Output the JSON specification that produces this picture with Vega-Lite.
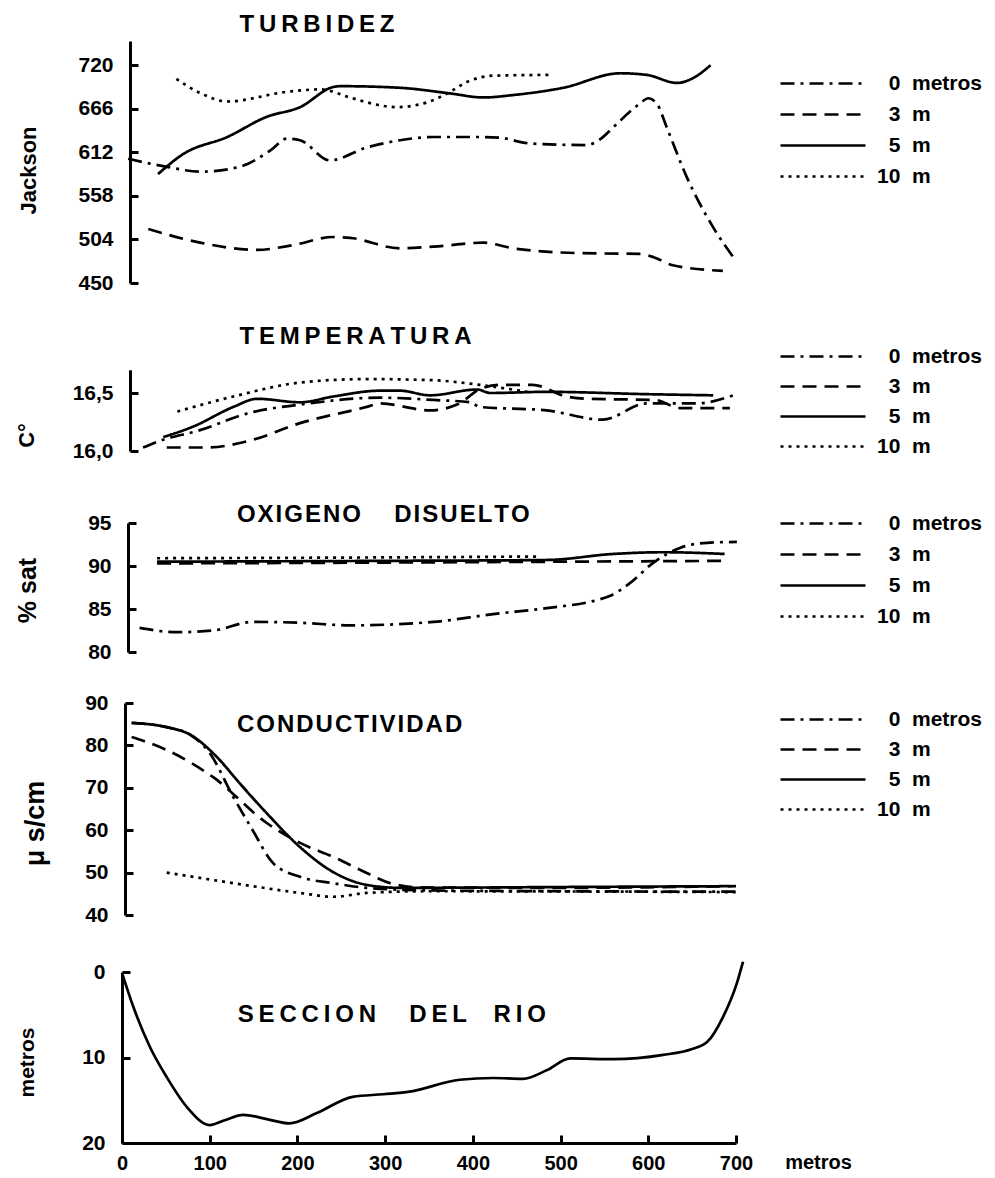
{
  "$schema": "https://vega.github.io/schema/vega-lite/v6.json",
  "autosize": {"type": "none"},
  "width": 614,
  "height": 1102,
  "padding": {"left": 122, "top": 41, "right": 259, "bottom": 35},
  "background": "white",
  "config": {
    "view": {"stroke": null},
    "font": "Liberation Sans",
    "axis": {
      "grid": false,
      "domainColor": "black",
      "domainWidth": 3,
      "tickColor": "black",
      "tickWidth": 3,
      "tickSize": -8,
      "labelPadding": 25,
      "labelFlush": false,
      "labelFont": "Liberation Sans",
      "labelFontSize": 21,
      "labelFontWeight": "bold",
      "labelColor": "black",
      "titleFont": "Liberation Sans",
      "titleFontSize": 22,
      "titleFontWeight": "bold",
      "titleColor": "black"
    },
    "legend": {
      "title": null,
      "symbolType": "M0,0H17",
      "symbolSize": 100,
      "symbolStrokeWidth": 2.6,
      "symbolStrokeColor": "black",
      "symbolFillColor": "transparent",
      "labelOffset": 86,
      "labelFont": "Liberation Sans",
      "labelFontSize": 21,
      "labelFontWeight": "bold",
      "labelColor": "black",
      "labelLimit": 300,
      "rowPadding": 8
    }
  },
  "datasets": {
    "d": [
      {"panel": "T", "depth": "0", "x": 7, "value": 604},
      {"panel": "T", "depth": "0", "x": 51, "value": 594},
      {"panel": "T", "depth": "0", "x": 89, "value": 588},
      {"panel": "T", "depth": "0", "x": 134, "value": 594},
      {"panel": "T", "depth": "0", "x": 170, "value": 615},
      {"panel": "T", "depth": "0", "x": 188, "value": 629},
      {"panel": "T", "depth": "0", "x": 203, "value": 627},
      {"panel": "T", "depth": "0", "x": 237, "value": 602},
      {"panel": "T", "depth": "0", "x": 279, "value": 618},
      {"panel": "T", "depth": "0", "x": 317, "value": 627},
      {"panel": "T", "depth": "0", "x": 355, "value": 631},
      {"panel": "T", "depth": "0", "x": 408, "value": 631},
      {"panel": "T", "depth": "0", "x": 431, "value": 630},
      {"panel": "T", "depth": "0", "x": 465, "value": 623},
      {"panel": "T", "depth": "0", "x": 530, "value": 621},
      {"panel": "T", "depth": "0", "x": 545, "value": 628},
      {"panel": "T", "depth": "0", "x": 560, "value": 643},
      {"panel": "T", "depth": "0", "x": 590, "value": 672},
      {"panel": "T", "depth": "0", "x": 600, "value": 679},
      {"panel": "T", "depth": "0", "x": 610, "value": 672},
      {"panel": "T", "depth": "0", "x": 621, "value": 643},
      {"panel": "T", "depth": "0", "x": 644, "value": 581},
      {"panel": "T", "depth": "0", "x": 674, "value": 519},
      {"panel": "T", "depth": "0", "x": 699, "value": 479},
      {"panel": "T", "depth": "3", "x": 30, "value": 517},
      {"panel": "T", "depth": "3", "x": 89, "value": 500},
      {"panel": "T", "depth": "3", "x": 154, "value": 491},
      {"panel": "T", "depth": "3", "x": 195, "value": 497},
      {"panel": "T", "depth": "3", "x": 241, "value": 507},
      {"panel": "T", "depth": "3", "x": 260, "value": 506},
      {"panel": "T", "depth": "3", "x": 317, "value": 493},
      {"panel": "T", "depth": "3", "x": 355, "value": 495},
      {"panel": "T", "depth": "3", "x": 412, "value": 500},
      {"panel": "T", "depth": "3", "x": 446, "value": 493},
      {"panel": "T", "depth": "3", "x": 522, "value": 487},
      {"panel": "T", "depth": "3", "x": 590, "value": 486},
      {"panel": "T", "depth": "3", "x": 606, "value": 482},
      {"panel": "T", "depth": "3", "x": 628, "value": 472},
      {"panel": "T", "depth": "3", "x": 685, "value": 465},
      {"panel": "T", "depth": "5", "x": 41, "value": 585},
      {"panel": "T", "depth": "5", "x": 70, "value": 610},
      {"panel": "T", "depth": "5", "x": 120, "value": 631},
      {"panel": "T", "depth": "5", "x": 165, "value": 656},
      {"panel": "T", "depth": "5", "x": 203, "value": 668},
      {"panel": "T", "depth": "5", "x": 241, "value": 693},
      {"panel": "T", "depth": "5", "x": 249, "value": 694},
      {"panel": "T", "depth": "5", "x": 317, "value": 692},
      {"panel": "T", "depth": "5", "x": 374, "value": 685},
      {"panel": "T", "depth": "5", "x": 412, "value": 680},
      {"panel": "T", "depth": "5", "x": 446, "value": 683},
      {"panel": "T", "depth": "5", "x": 503, "value": 692},
      {"panel": "T", "depth": "5", "x": 568, "value": 710},
      {"panel": "T", "depth": "5", "x": 598, "value": 708},
      {"panel": "T", "depth": "5", "x": 633, "value": 698},
      {"panel": "T", "depth": "5", "x": 651, "value": 704},
      {"panel": "T", "depth": "5", "x": 671, "value": 720},
      {"panel": "T", "depth": "10", "x": 62, "value": 703},
      {"panel": "T", "depth": "10", "x": 90, "value": 685},
      {"panel": "T", "depth": "10", "x": 120, "value": 675},
      {"panel": "T", "depth": "10", "x": 188, "value": 687},
      {"panel": "T", "depth": "10", "x": 226, "value": 690},
      {"panel": "T", "depth": "10", "x": 260, "value": 680},
      {"panel": "T", "depth": "10", "x": 279, "value": 674},
      {"panel": "T", "depth": "10", "x": 313, "value": 668},
      {"panel": "T", "depth": "10", "x": 348, "value": 674},
      {"panel": "T", "depth": "10", "x": 374, "value": 687},
      {"panel": "T", "depth": "10", "x": 393, "value": 699},
      {"panel": "T", "depth": "10", "x": 423, "value": 707},
      {"panel": "T", "depth": "10", "x": 490, "value": 708},

      {"panel": "C", "depth": "0", "x": 24, "value": 16.03},
      {"panel": "C", "depth": "0", "x": 40, "value": 16.08},
      {"panel": "C", "depth": "0", "x": 89, "value": 16.18},
      {"panel": "C", "depth": "0", "x": 146, "value": 16.33},
      {"panel": "C", "depth": "0", "x": 203, "value": 16.4},
      {"panel": "C", "depth": "0", "x": 294, "value": 16.46},
      {"panel": "C", "depth": "0", "x": 355, "value": 16.44},
      {"panel": "C", "depth": "0", "x": 397, "value": 16.42},
      {"panel": "C", "depth": "0", "x": 408, "value": 16.38},
      {"panel": "C", "depth": "0", "x": 484, "value": 16.35},
      {"panel": "C", "depth": "0", "x": 548, "value": 16.27},
      {"panel": "C", "depth": "0", "x": 598, "value": 16.41},
      {"panel": "C", "depth": "0", "x": 655, "value": 16.41},
      {"panel": "C", "depth": "0", "x": 697, "value": 16.48},
      {"panel": "C", "depth": "3", "x": 51, "value": 16.03},
      {"panel": "C", "depth": "3", "x": 97, "value": 16.03},
      {"panel": "C", "depth": "3", "x": 146, "value": 16.09},
      {"panel": "C", "depth": "3", "x": 203, "value": 16.24},
      {"panel": "C", "depth": "3", "x": 279, "value": 16.38},
      {"panel": "C", "depth": "3", "x": 294, "value": 16.41},
      {"panel": "C", "depth": "3", "x": 351, "value": 16.35},
      {"panel": "C", "depth": "3", "x": 382, "value": 16.4},
      {"panel": "C", "depth": "3", "x": 410, "value": 16.54},
      {"panel": "C", "depth": "3", "x": 431, "value": 16.57},
      {"panel": "C", "depth": "3", "x": 468, "value": 16.57},
      {"panel": "C", "depth": "3", "x": 507, "value": 16.47},
      {"panel": "C", "depth": "3", "x": 530, "value": 16.45},
      {"panel": "C", "depth": "3", "x": 608, "value": 16.44},
      {"panel": "C", "depth": "3", "x": 636, "value": 16.37},
      {"panel": "C", "depth": "3", "x": 693, "value": 16.37},
      {"panel": "C", "depth": "5", "x": 47, "value": 16.12},
      {"panel": "C", "depth": "5", "x": 81, "value": 16.21},
      {"panel": "C", "depth": "5", "x": 127, "value": 16.38},
      {"panel": "C", "depth": "5", "x": 154, "value": 16.45},
      {"panel": "C", "depth": "5", "x": 203, "value": 16.42},
      {"panel": "C", "depth": "5", "x": 241, "value": 16.47},
      {"panel": "C", "depth": "5", "x": 294, "value": 16.52},
      {"panel": "C", "depth": "5", "x": 317, "value": 16.52},
      {"panel": "C", "depth": "5", "x": 351, "value": 16.48},
      {"panel": "C", "depth": "5", "x": 405, "value": 16.53},
      {"panel": "C", "depth": "5", "x": 420, "value": 16.5},
      {"panel": "C", "depth": "5", "x": 484, "value": 16.51},
      {"panel": "C", "depth": "5", "x": 598, "value": 16.49},
      {"panel": "C", "depth": "5", "x": 674, "value": 16.48},
      {"panel": "C", "depth": "10", "x": 63, "value": 16.34},
      {"panel": "C", "depth": "10", "x": 127, "value": 16.47},
      {"panel": "C", "depth": "10", "x": 203, "value": 16.59},
      {"panel": "C", "depth": "10", "x": 279, "value": 16.62},
      {"panel": "C", "depth": "10", "x": 355, "value": 16.61},
      {"panel": "C", "depth": "10", "x": 408, "value": 16.57},
      {"panel": "C", "depth": "10", "x": 462, "value": 16.51},

      {"panel": "O", "depth": "0", "x": 20, "value": 82.8},
      {"panel": "O", "depth": "0", "x": 63, "value": 82.3},
      {"panel": "O", "depth": "0", "x": 104, "value": 82.5},
      {"panel": "O", "depth": "0", "x": 149, "value": 83.5},
      {"panel": "O", "depth": "0", "x": 203, "value": 83.4},
      {"panel": "O", "depth": "0", "x": 260, "value": 83.1},
      {"panel": "O", "depth": "0", "x": 355, "value": 83.5},
      {"panel": "O", "depth": "0", "x": 423, "value": 84.4},
      {"panel": "O", "depth": "0", "x": 484, "value": 85.1},
      {"panel": "O", "depth": "0", "x": 540, "value": 86},
      {"panel": "O", "depth": "0", "x": 556, "value": 86.5},
      {"panel": "O", "depth": "0", "x": 579, "value": 88},
      {"panel": "O", "depth": "0", "x": 606, "value": 90.4},
      {"panel": "O", "depth": "0", "x": 636, "value": 92.1},
      {"panel": "O", "depth": "0", "x": 667, "value": 92.7},
      {"panel": "O", "depth": "0", "x": 701, "value": 92.8},
      {"panel": "O", "depth": "3", "x": 40, "value": 90.3},
      {"panel": "O", "depth": "3", "x": 300, "value": 90.4},
      {"panel": "O", "depth": "3", "x": 500, "value": 90.5},
      {"panel": "O", "depth": "3", "x": 687, "value": 90.6},
      {"panel": "O", "depth": "5", "x": 40, "value": 90.5},
      {"panel": "O", "depth": "5", "x": 300, "value": 90.6},
      {"panel": "O", "depth": "5", "x": 484, "value": 90.7},
      {"panel": "O", "depth": "5", "x": 560, "value": 91.4},
      {"panel": "O", "depth": "5", "x": 617, "value": 91.6},
      {"panel": "O", "depth": "5", "x": 687, "value": 91.4},
      {"panel": "O", "depth": "10", "x": 40, "value": 90.9},
      {"panel": "O", "depth": "10", "x": 300, "value": 91},
      {"panel": "O", "depth": "10", "x": 476, "value": 91.1},

      {"panel": "K", "depth": "0", "x": 11, "value": 85.3},
      {"panel": "K", "depth": "0", "x": 51, "value": 84.3},
      {"panel": "K", "depth": "0", "x": 78, "value": 82.5},
      {"panel": "K", "depth": "0", "x": 100, "value": 78.2},
      {"panel": "K", "depth": "0", "x": 127, "value": 67.8},
      {"panel": "K", "depth": "0", "x": 149, "value": 60},
      {"panel": "K", "depth": "0", "x": 172, "value": 52.3},
      {"panel": "K", "depth": "0", "x": 203, "value": 49},
      {"panel": "K", "depth": "0", "x": 241, "value": 47.5},
      {"panel": "K", "depth": "0", "x": 279, "value": 46.4},
      {"panel": "K", "depth": "0", "x": 350, "value": 45.8},
      {"panel": "K", "depth": "0", "x": 500, "value": 45.6},
      {"panel": "K", "depth": "0", "x": 700, "value": 45.5},
      {"panel": "K", "depth": "3", "x": 11, "value": 82},
      {"panel": "K", "depth": "3", "x": 51, "value": 78.9},
      {"panel": "K", "depth": "3", "x": 104, "value": 72.5},
      {"panel": "K", "depth": "3", "x": 165, "value": 61.7},
      {"panel": "K", "depth": "3", "x": 203, "value": 57},
      {"panel": "K", "depth": "3", "x": 241, "value": 53.7},
      {"panel": "K", "depth": "3", "x": 279, "value": 49.9},
      {"panel": "K", "depth": "3", "x": 306, "value": 47.5},
      {"panel": "K", "depth": "3", "x": 340, "value": 46.5},
      {"panel": "K", "depth": "3", "x": 500, "value": 46.4},
      {"panel": "K", "depth": "3", "x": 700, "value": 46.8},
      {"panel": "K", "depth": "5", "x": 11, "value": 85.3},
      {"panel": "K", "depth": "5", "x": 51, "value": 84.3},
      {"panel": "K", "depth": "5", "x": 78, "value": 82.5},
      {"panel": "K", "depth": "5", "x": 108, "value": 77.3},
      {"panel": "K", "depth": "5", "x": 134, "value": 71.1},
      {"panel": "K", "depth": "5", "x": 165, "value": 64},
      {"panel": "K", "depth": "5", "x": 203, "value": 56},
      {"panel": "K", "depth": "5", "x": 241, "value": 50.1},
      {"panel": "K", "depth": "5", "x": 279, "value": 47.1},
      {"panel": "K", "depth": "5", "x": 317, "value": 46.4},
      {"panel": "K", "depth": "5", "x": 500, "value": 46.6},
      {"panel": "K", "depth": "5", "x": 693, "value": 46.8},
      {"panel": "K", "depth": "10", "x": 51, "value": 50},
      {"panel": "K", "depth": "10", "x": 127, "value": 47.5},
      {"panel": "K", "depth": "10", "x": 203, "value": 45.2},
      {"panel": "K", "depth": "10", "x": 241, "value": 44.3},
      {"panel": "K", "depth": "10", "x": 279, "value": 45.2},
      {"panel": "K", "depth": "10", "x": 350, "value": 45.6},
      {"panel": "K", "depth": "10", "x": 700, "value": 45.4},

      {"panel": "S", "depth": "s", "x": 0, "value": 0.1},
      {"panel": "S", "depth": "s", "x": 13, "value": 4.1},
      {"panel": "S", "depth": "s", "x": 32, "value": 8.8},
      {"panel": "S", "depth": "s", "x": 51, "value": 12.3},
      {"panel": "S", "depth": "s", "x": 74, "value": 15.8},
      {"panel": "S", "depth": "s", "x": 100, "value": 17.9},
      {"panel": "S", "depth": "s", "x": 118, "value": 17.3},
      {"panel": "S", "depth": "s", "x": 138, "value": 16.7},
      {"panel": "S", "depth": "s", "x": 165, "value": 17.2},
      {"panel": "S", "depth": "s", "x": 191, "value": 17.7},
      {"panel": "S", "depth": "s", "x": 222, "value": 16.5},
      {"panel": "S", "depth": "s", "x": 263, "value": 14.6},
      {"panel": "S", "depth": "s", "x": 298, "value": 14.3},
      {"panel": "S", "depth": "s", "x": 328, "value": 14},
      {"panel": "S", "depth": "s", "x": 385, "value": 12.6},
      {"panel": "S", "depth": "s", "x": 423, "value": 12.4},
      {"panel": "S", "depth": "s", "x": 457, "value": 12.5},
      {"panel": "S", "depth": "s", "x": 484, "value": 11.5},
      {"panel": "S", "depth": "s", "x": 511, "value": 10.1},
      {"panel": "S", "depth": "s", "x": 560, "value": 10.2},
      {"panel": "S", "depth": "s", "x": 617, "value": 9.7},
      {"panel": "S", "depth": "s", "x": 650, "value": 9},
      {"panel": "S", "depth": "s", "x": 667, "value": 8.2},
      {"panel": "S", "depth": "s", "x": 685, "value": 5.3},
      {"panel": "S", "depth": "s", "x": 701, "value": 1.3},
      {"panel": "S", "depth": "s", "x": 708, "value": -1.2}
    ],
    "titles": [
      {"panel": "T", "label": "T\u2009U\u2009R\u2009B\u2009I\u2009D\u2009E\u2009Z"},
      {"panel": "C", "label": "T\u2009E\u2009M\u2009P\u2009E\u2009R\u2009A\u2009T\u2009U\u2009R\u2009A"},
      {"panel": "O", "label": "O\u200aX\u200aI\u200aG\u200aE\u200aN\u200aO\u00a0\u00a0\u00a0\u00a0\u00a0D\u200aI\u200aS\u200aU\u200aE\u200aL\u200aT\u200aO"},
      {"panel": "K", "label": "C\u200aO\u200aN\u200aD\u200aU\u200aC\u200aT\u200aI\u200aV\u200aI\u200aD\u200aA\u200aD"},
      {"panel": "S", "label": "S\u2009E\u2009C\u2009C\u2009I\u2009O\u2009N\u00a0\u00a0\u00a0\u00a0\u00a0D\u2009E\u2009L\u00a0\u00a0\u00a0\u00a0R\u2009I\u2009O"}
    ]
  },
  "layer": [
    {
      "layer": [
        {
          "data": {"name": "d"},
          "transform": [{"filter": "datum.panel == 'T'"}],
          "mark": {"type": "line", "interpolate": "monotone", "color": "black", "strokeWidth": 2.7},
          "encoding": {
            "x": {"field": "x", "type": "quantitative", "scale": {"domain": [0, 700], "nice": false, "zero": false},
                  "axis": {"values": [0, 100, 200, 300, 400, 500, 600, 700], "labelPadding": 18, "labelFontSize": 20, "title": "metros", "titleFontSize": 20, "titleX": 696, "titleY": 19, "titleAlign": "center", "titleBaseline": "middle"}},
            "y": {"field": "value", "type": "quantitative", "scale": {"domain": [450, 750], "range": [242, 0], "nice": false, "zero": false},
                  "axis": {"orient": "left", "offset": -8, "values": [450, 504, 558, 612, 666, 720], "title": "Jackson", "titleX": -102, "titleY": 129, "titleBaseline": "middle", "titleAlign": "center", "titleFontSize": 22}},
            "strokeDash": {"field": "depth", "type": "nominal",
                           "scale": {"domain": ["0", "3", "5", "10"], "range": [[14, 6, 3, 6], [14, 8], [1, 0], [3, 5]]},
                           "legend": {"orient": "none", "legendX": 648, "legendY": 32, "rowPadding": 9,
                                      "labelExpr": "datum.label == '0' ? '\u200d\u00a0\u00a00\u00a0\u00a0metros' : datum.label == '10' ? '10\u00a0\u00a0m' : '\u200d\u00a0\u00a0' + datum.label + '\u00a0\u00a0m'"}}
          }
        },
        {
          "data": {"name": "titles"},
          "transform": [{"filter": "datum.panel == 'T'"}],
          "mark": {"type": "text", "align": "left", "baseline": "middle", "font": "Liberation Sans", "fontSize": 24, "fontWeight": "bold", "color": "black"},
          "encoding": {
            "x": {"datum": 134, "type": "quantitative",
                  "axis": {"values": [0, 100, 200, 300, 400, 500, 600, 700], "labelPadding": 18, "labelFontSize": 20, "title": "metros", "titleFontSize": 20, "titleX": 696, "titleY": 19, "titleAlign": "center", "titleBaseline": "middle"}},
            "y": {"datum": 770, "type": "quantitative",
                  "axis": {"orient": "left", "offset": -8, "values": [450, 504, 558, 612, 666, 720], "title": "Jackson", "titleX": -102, "titleY": 129, "titleBaseline": "middle", "titleAlign": "center", "titleFontSize": 22}},
            "text": {"field": "label"}
          }
        }
      ]
    },
    {
      "layer": [
        {
          "data": {"name": "d"},
          "transform": [{"filter": "datum.panel == 'C'"}],
          "mark": {"type": "line", "interpolate": "monotone", "color": "black", "strokeWidth": 2.7},
          "encoding": {
            "x": {"field": "x", "type": "quantitative", "scale": {"domain": [0, 700], "nice": false, "zero": false},
                  "axis": {"values": [0, 100, 200, 300, 400, 500, 600, 700], "labelPadding": 18, "labelFontSize": 20, "title": "metros", "titleFontSize": 20, "titleX": 696, "titleY": 19, "titleAlign": "center", "titleBaseline": "middle"}},
            "y": {"field": "value", "type": "quantitative", "scale": {"domain": [16.0, 16.7], "range": [410, 328.8], "nice": false, "zero": false},
                  "axis": {"orient": "left", "offset": -8, "values": [16.0, 16.5], "labelExpr": "replace(format(datum.value, '.1f'), '.', ',')", "title": "C°", "titleX": -104, "titleY": 394, "titleBaseline": "middle", "titleAlign": "center", "titleFontSize": 22}},
            "strokeDash": {"field": "depth", "type": "nominal",
                           "scale": {"domain": ["0", "3", "5", "10"], "range": [[14, 6, 3, 6], [14, 8], [1, 0], [3, 5]]},
                           "legend": {"orient": "none", "legendX": 648, "legendY": 305,
                                      "labelExpr": "datum.label == '0' ? '\u200d\u00a0\u00a00\u00a0\u00a0metros' : datum.label == '10' ? '10\u00a0\u00a0m' : '\u200d\u00a0\u00a0' + datum.label + '\u00a0\u00a0m'"}}
          }
        },
        {
          "data": {"name": "titles"},
          "transform": [{"filter": "datum.panel == 'C'"}],
          "mark": {"type": "text", "align": "left", "baseline": "middle", "font": "Liberation Sans", "fontSize": 24, "fontWeight": "bold", "color": "black"},
          "encoding": {
            "x": {"datum": 134, "type": "quantitative",
                  "axis": {"values": [0, 100, 200, 300, 400, 500, 600, 700], "labelPadding": 18, "labelFontSize": 20, "title": "metros", "titleFontSize": 20, "titleX": 696, "titleY": 19, "titleAlign": "center", "titleBaseline": "middle"}},
            "y": {"datum": 16.983, "type": "quantitative",
                  "axis": {"orient": "left", "offset": -8, "values": [16.0, 16.5], "labelExpr": "replace(format(datum.value, '.1f'), '.', ',')", "title": "C°", "titleX": -104, "titleY": 394, "titleBaseline": "middle", "titleAlign": "center", "titleFontSize": 22}},
            "text": {"field": "label"}
          }
        }
      ]
    },
    {
      "layer": [
        {
          "data": {"name": "d"},
          "transform": [{"filter": "datum.panel == 'O'"}],
          "mark": {"type": "line", "interpolate": "monotone", "color": "black", "strokeWidth": 2.7},
          "encoding": {
            "x": {"field": "x", "type": "quantitative", "scale": {"domain": [0, 700], "nice": false, "zero": false},
                  "axis": {"values": [0, 100, 200, 300, 400, 500, 600, 700], "labelPadding": 18, "labelFontSize": 20, "title": "metros", "titleFontSize": 20, "titleX": 696, "titleY": 19, "titleAlign": "center", "titleBaseline": "middle"}},
            "y": {"field": "value", "type": "quantitative", "scale": {"domain": [80, 95], "range": [611, 482], "nice": false, "zero": false},
                  "axis": {"orient": "left", "offset": -6, "values": [80, 85, 90, 95], "title": "% sat", "titleX": -101, "titleY": 549, "titleBaseline": "middle", "titleAlign": "center", "titleFontSize": 25}},
            "strokeDash": {"field": "depth", "type": "nominal",
                           "scale": {"domain": ["0", "3", "5", "10"], "range": [[14, 6, 3, 6], [14, 8], [1, 0], [3, 5]]},
                           "legend": {"orient": "none", "legendX": 648, "legendY": 472, "rowPadding": 9,
                                      "labelExpr": "datum.label == '0' ? '\u200d\u00a0\u00a00\u00a0\u00a0metros' : datum.label == '10' ? '10\u00a0\u00a0m' : '\u200d\u00a0\u00a0' + datum.label + '\u00a0\u00a0m'"}}
          }
        },
        {
          "data": {"name": "titles"},
          "transform": [{"filter": "datum.panel == 'O'"}],
          "mark": {"type": "text", "align": "left", "baseline": "middle", "font": "Liberation Sans", "fontSize": 24, "fontWeight": "bold", "color": "black"},
          "encoding": {
            "x": {"datum": 131, "type": "quantitative",
                  "axis": {"values": [0, 100, 200, 300, 400, 500, 600, 700], "labelPadding": 18, "labelFontSize": 20, "title": "metros", "titleFontSize": 20, "titleX": 696, "titleY": 19, "titleAlign": "center", "titleBaseline": "middle"}},
            "y": {"datum": 95.93, "type": "quantitative",
                  "axis": {"orient": "left", "offset": -6, "values": [80, 85, 90, 95], "title": "% sat", "titleX": -101, "titleY": 549, "titleBaseline": "middle", "titleAlign": "center", "titleFontSize": 25}},
            "text": {"field": "label"}
          }
        }
      ]
    },
    {
      "layer": [
        {
          "data": {"name": "d"},
          "transform": [{"filter": "datum.panel == 'K'"}],
          "mark": {"type": "line", "interpolate": "monotone", "color": "black", "strokeWidth": 2.7},
          "encoding": {
            "x": {"field": "x", "type": "quantitative", "scale": {"domain": [0, 700], "nice": false, "zero": false},
                  "axis": {"values": [0, 100, 200, 300, 400, 500, 600, 700], "labelPadding": 18, "labelFontSize": 20, "title": "metros", "titleFontSize": 20, "titleX": 696, "titleY": 19, "titleAlign": "center", "titleBaseline": "middle"}},
            "y": {"field": "value", "type": "quantitative", "scale": {"domain": [40, 90], "range": [874, 662], "nice": false, "zero": false},
                  "axis": {"orient": "left", "offset": -3, "values": [40, 50, 60, 70, 80, 90], "title": "μ s/cm", "titleX": -90, "titleY": 782, "titleBaseline": "middle", "titleAlign": "center", "titleFontSize": 27}},
            "strokeDash": {"field": "depth", "type": "nominal",
                           "scale": {"domain": ["0", "3", "5", "10"], "range": [[14, 6, 3, 6], [14, 8], [1, 0], [3, 5]]},
                           "legend": {"orient": "none", "legendX": 648, "legendY": 668,
                                      "labelExpr": "datum.label == '0' ? '\u200d\u00a0\u00a00\u00a0\u00a0metros' : datum.label == '10' ? '10\u00a0\u00a0m' : '\u200d\u00a0\u00a0' + datum.label + '\u00a0\u00a0m'"}}
          }
        },
        {
          "data": {"name": "titles"},
          "transform": [{"filter": "datum.panel == 'K'"}],
          "mark": {"type": "text", "align": "left", "baseline": "middle", "font": "Liberation Sans", "fontSize": 24, "fontWeight": "bold", "color": "black"},
          "encoding": {
            "x": {"datum": 131, "type": "quantitative",
                  "axis": {"values": [0, 100, 200, 300, 400, 500, 600, 700], "labelPadding": 18, "labelFontSize": 20, "title": "metros", "titleFontSize": 20, "titleX": 696, "titleY": 19, "titleAlign": "center", "titleBaseline": "middle"}},
            "y": {"datum": 84.8, "type": "quantitative",
                  "axis": {"orient": "left", "offset": -3, "values": [40, 50, 60, 70, 80, 90], "title": "μ s/cm", "titleX": -90, "titleY": 782, "titleBaseline": "middle", "titleAlign": "center", "titleFontSize": 27}},
            "text": {"field": "label"}
          }
        }
      ]
    },
    {
      "layer": [
        {
          "data": {"name": "d"},
          "transform": [{"filter": "datum.panel == 'S'"}],
          "mark": {"type": "line", "interpolate": "monotone", "color": "black", "strokeWidth": 2.7},
          "encoding": {
            "x": {"field": "x", "type": "quantitative", "scale": {"domain": [0, 700], "nice": false, "zero": false},
                  "axis": {"values": [0, 100, 200, 300, 400, 500, 600, 700], "labelPadding": 18, "labelFontSize": 20, "title": "metros", "titleFontSize": 20, "titleX": 696, "titleY": 19, "titleAlign": "center", "titleBaseline": "middle"}},
            "y": {"field": "value", "type": "quantitative", "scale": {"domain": [0, 20], "range": [931, 1102], "nice": false, "zero": false},
                  "axis": {"orient": "left", "values": [0, 10, 20], "title": "metros", "titleX": -95, "titleY": 1021, "titleBaseline": "middle", "titleAlign": "center", "titleFontSize": 21}}
          }
        },
        {
          "data": {"name": "titles"},
          "transform": [{"filter": "datum.panel == 'S'"}],
          "mark": {"type": "text", "align": "left", "baseline": "middle", "font": "Liberation Sans", "fontSize": 24, "fontWeight": "bold", "color": "black"},
          "encoding": {
            "x": {"datum": 132, "type": "quantitative",
                  "axis": {"values": [0, 100, 200, 300, 400, 500, 600, 700], "labelPadding": 18, "labelFontSize": 20, "title": "metros", "titleFontSize": 20, "titleX": 696, "titleY": 19, "titleAlign": "center", "titleBaseline": "middle"}},
            "y": {"datum": 5.03, "type": "quantitative",
                  "axis": {"orient": "left", "values": [0, 10, 20], "title": "metros", "titleX": -95, "titleY": 1021, "titleBaseline": "middle", "titleAlign": "center", "titleFontSize": 21}},
            "text": {"field": "label"}
          }
        }
      ]
    }
  ],
  "resolve": {
    "scale": {"y": "independent", "strokeDash": "independent"},
    "axis": {"y": "independent"},
    "legend": {"strokeDash": "independent"}
  }
}
